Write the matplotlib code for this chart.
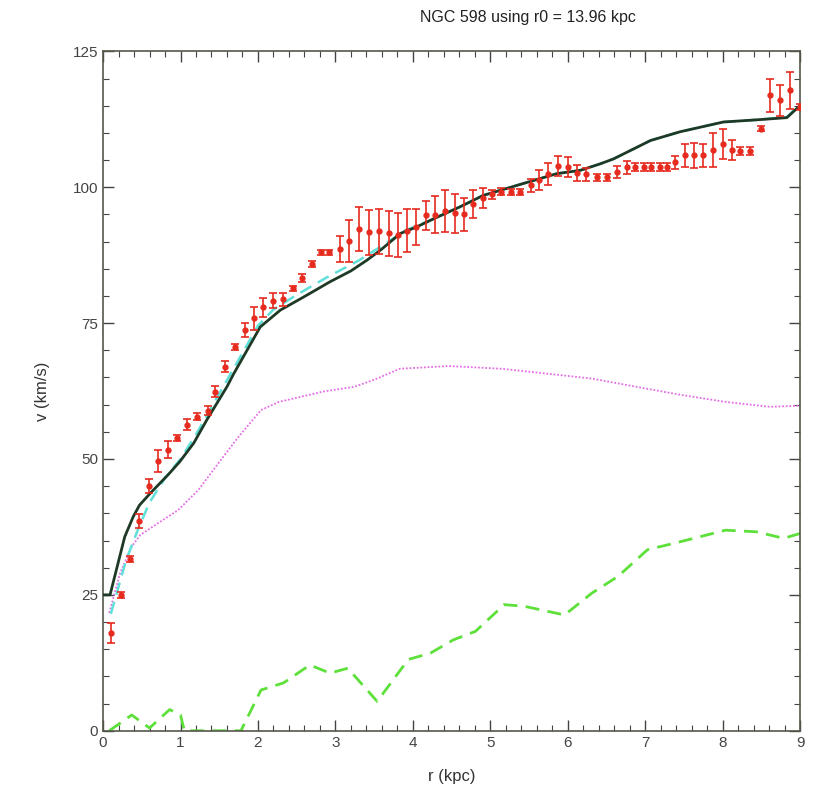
import numpy as np
import matplotlib
matplotlib.use("Agg")
import matplotlib.pyplot as plt
from matplotlib.ticker import MultipleLocator

plt.rcParams['font.family'] = ['Liberation Sans', 'DejaVu Sans']

# ── observed rotation curve (r kpc, v km/s, error) ─────────────────────────
r_obs = [0.10, 0.23, 0.35, 0.47, 0.59, 0.71, 0.84, 0.96, 1.08, 1.21,
         1.35, 1.45, 1.57, 1.71, 1.83, 1.95, 2.07, 2.20, 2.32, 2.45,
         2.57, 2.70, 2.81, 2.92, 3.06, 3.18, 3.30, 3.43, 3.56, 3.69,
         3.81, 3.92, 4.04, 4.17, 4.29, 4.41, 4.55, 4.66, 4.78, 4.90,
         5.02, 5.14, 5.27, 5.39, 5.52, 5.63, 5.75, 5.88, 6.00, 6.12,
         6.24, 6.38, 6.51, 6.64, 6.77, 6.87, 6.98, 7.08, 7.19, 7.28,
         7.39, 7.51, 7.63, 7.75, 7.88, 8.00, 8.12, 8.23, 8.36, 8.49,
         8.61, 8.74, 8.87, 9.00]
v_obs = [18.0, 25.0, 31.6, 38.6, 45.0, 49.6, 51.7, 53.9, 56.3, 57.8,
         58.9, 62.4, 67.0, 70.6, 73.7, 75.9, 77.9, 79.1, 79.4, 81.4,
         83.3, 85.9, 88.0, 88.0, 88.6, 90.1, 92.3, 91.7, 91.9, 91.5,
         91.2, 92.0, 92.7, 94.8, 94.9, 95.6, 95.2, 95.0, 96.9, 98.0,
         98.7, 99.2, 99.1, 99.1, 100.4, 101.3, 102.5, 103.9, 103.7, 102.6,
         102.4, 101.8, 101.8, 102.8, 103.7, 103.7, 103.7, 103.7, 103.7, 103.7,
         104.6, 105.9, 105.9, 105.9, 106.8, 108.0, 106.8, 106.7, 106.7, 110.8,
         116.9, 116.0, 117.8, 114.8]
e_obs = [1.8, 0.6, 0.6, 1.3, 1.3, 2.0, 1.6, 0.6, 1.0, 0.6,
         0.8, 1.0, 1.0, 0.5, 1.3, 2.1, 1.7, 1.4, 1.2, 0.5,
         0.8, 0.5, 0.5, 0.5, 2.4, 3.8, 4.1, 4.1, 4.1, 4.1,
         4.0, 4.0, 3.3, 2.6, 3.4, 3.8, 3.6, 3.1, 2.6, 1.8,
         0.8, 0.6, 0.6, 0.6, 1.2, 1.8, 2.0, 1.8, 1.8, 1.4,
         1.2, 0.7, 0.7, 1.1, 1.2, 0.7, 0.7, 0.7, 0.7, 0.7,
         1.2, 2.1, 2.3, 2.1, 3.1, 2.8, 1.8, 0.7, 0.7, 0.4,
         3.1, 2.9, 3.4, 0.6]

# ── model curves ───────────────────────────────────────────────────────────
r_tot = [0.0, 0.09, 0.28, 0.39, 0.47, 0.61, 0.84, 0.99, 1.17, 1.34,
         1.60, 1.68, 2.03, 2.29, 2.59, 2.93, 3.20, 3.41, 3.58, 3.84,
         4.05, 4.27, 4.61, 4.91, 5.43, 5.86, 6.16, 6.42, 6.59, 7.07,
         7.45, 8.01, 8.44, 8.83, 8.96, 9.0]
v_tot = [25.0, 25.0, 35.7, 39.4, 41.5, 43.7, 47.1, 49.5, 52.9, 57.2,
         63.3, 65.5, 74.3, 77.4, 79.8, 82.6, 84.6, 86.6, 88.4, 91.5,
         92.7, 94.2, 96.4, 98.5, 100.7, 102.5, 103.1, 104.3, 105.2, 108.6,
         110.2, 112.0, 112.4, 112.8, 114.5, 115.0]

r_cyan = [0.10, 0.2, 0.3, 0.45, 0.6, 0.8, 1.0, 1.2, 1.4, 1.6,
          1.8, 2.0, 2.2, 2.5, 2.9, 3.3, 3.6, 3.9, 4.27, 4.61,
          4.91, 5.43, 5.86, 6.16, 6.42, 6.59, 7.07, 7.45, 8.01, 8.44,
          8.83, 9.0]
v_cyan = [21.5, 26.5, 31.5, 37.0, 42.0, 46.5, 50.0, 54.5, 59.5, 64.5,
          69.5, 74.5, 77.5, 80.2, 83.5, 86.5, 89.2, 92.0, 94.2, 96.4,
          98.5, 100.7, 102.5, 103.1, 104.3, 105.2, 108.6, 110.2, 112.0, 112.4,
          112.9, 115.3]

r_disk = [0.08, 0.22, 0.37, 0.48, 0.71, 0.97, 1.23, 1.52, 1.75, 2.04,
          2.27, 2.84, 3.25, 3.54, 3.83, 4.46, 5.15, 5.73, 6.31, 6.88,
          7.46, 8.04, 8.61, 9.0]
v_disk = [21.7, 29.0, 33.9, 36.0, 38.2, 40.6, 44.3, 49.8, 54.1, 59.0,
          60.5, 62.4, 63.3, 64.8, 66.6, 67.1, 66.6, 65.7, 64.8, 63.3,
          61.8, 60.5, 59.6, 59.8]

r_gas = [0.08, 0.37, 0.60, 0.86, 1.00, 1.05, 1.78, 2.04, 2.33, 2.67,
         2.93, 3.16, 3.54, 3.94, 4.23, 4.52, 4.81, 5.18, 5.44, 5.96,
         6.31, 6.65, 7.03, 7.46, 8.04, 8.44, 8.79, 9.0]
v_gas = [0.0, 2.9, 0.5, 3.9, 2.9, 0.0, 0.0, 7.5, 8.8, 12.1,
         10.6, 11.5, 5.4, 13.1, 14.3, 16.7, 18.3, 23.2, 22.9, 21.3,
         25.3, 28.4, 33.3, 34.8, 36.9, 36.6, 35.4, 36.3]

fig = plt.figure(figsize=(8.18, 7.90), dpi=100)
ax = fig.add_axes([0.126, 0.075, 0.852, 0.860])

ax.plot(r_gas, v_gas, color='#5ee03a', lw=2.0, ls=(0, (5, 3)), zorder=2)
ax.plot(r_disk, v_disk, color='#e46ee6', lw=1.3, ls=(0, (1, 1)), zorder=2)
ax.plot(r_cyan, v_cyan, color='#5fe0d8', lw=1.8, ls=(0, (5, 3)), zorder=3)
ax.plot(r_tot, v_tot, color='#1e3a26', lw=2.0, zorder=4)
ax.errorbar(r_obs, v_obs, yerr=e_obs, fmt='o', color='#e62a1e', ms=3.5,
            elinewidth=1.2, capsize=3, capthick=1.2, zorder=5)

ax.set_xlim(0, 9)
ax.set_ylim(0, 125)
ax.xaxis.set_major_locator(MultipleLocator(1))
ax.xaxis.set_minor_locator(MultipleLocator(0.2))
ax.yaxis.set_major_locator(MultipleLocator(25))
ax.yaxis.set_minor_locator(MultipleLocator(5))
ax.tick_params(which='both', direction='in', top=True, right=True,
               colors='#444444', labelsize=11)
ax.tick_params(which='major', length=8, width=1)
ax.tick_params(which='minor', length=4, width=0.8)
for s in ax.spines.values():
    s.set_color('#55584a')
    s.set_linewidth(1.2)

ax.set_xlabel('r (kpc)', fontsize=12, color='#333333', labelpad=14)
ax.set_ylabel('v (km/s)', fontsize=12, color='#333333', labelpad=16)
fig.text(0.645, 0.978, 'NGC 598 using r0 = 13.96 kpc', fontsize=11.5,
         color='#222222', ha='center', va='center')

plt.savefig('out.png', dpi=100)
